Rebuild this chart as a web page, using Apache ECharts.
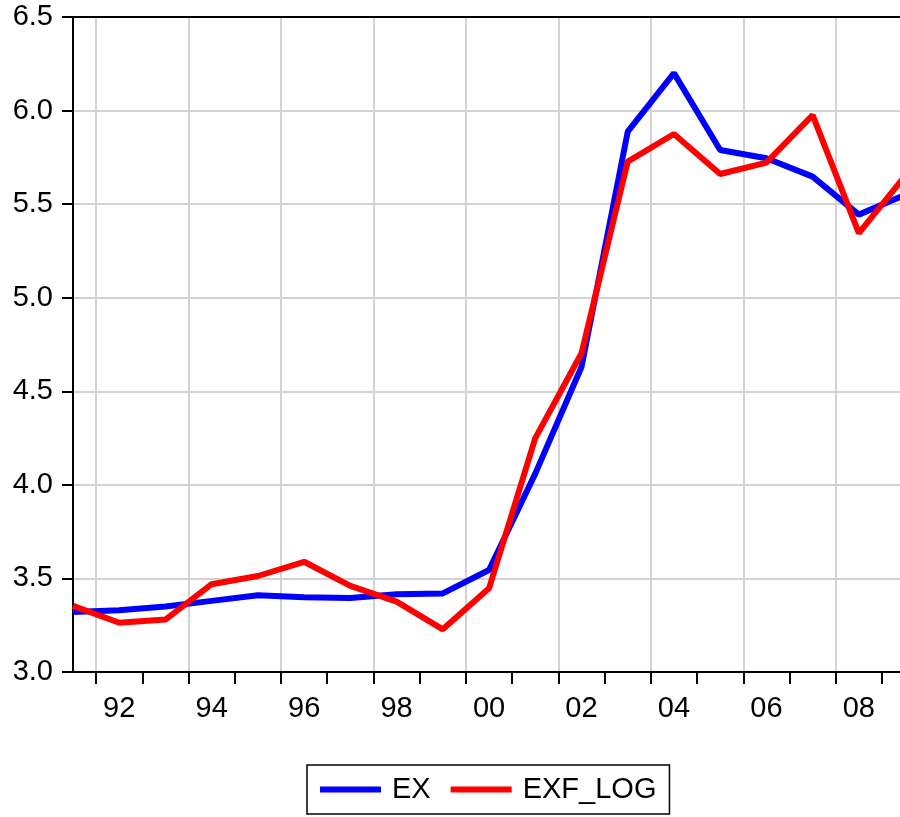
<!DOCTYPE html>
<html>
<head>
<meta charset="utf-8">
<script src="https://cdn.jsdelivr.net/npm/echarts@6/dist/echarts.min.js"></script>
<style>
  html, body { margin: 0; padding: 0; background: #fff; }
  #chart { width: 900px; height: 817px; }
</style>
</head>
<body>
<div id="chart"></div>
<script>
// years of the annual series
var years = [1991, 1992, 1993, 1994, 1995, 1996, 1997, 1998, 1999, 2000,
             2001, 2002, 2003, 2004, 2005, 2006, 2007, 2008, 2009];
// EX
var exValues = [3.32, 3.33, 3.35, 3.38, 3.41, 3.40, 3.395, 3.415, 3.42, 3.545,
                4.06, 4.63, 5.887, 6.20, 5.789, 5.745, 5.647, 5.444, 5.55];
// EXF_LOG
var exfLogValues = [3.353, 3.263, 3.28, 3.469, 3.513, 3.589, 3.46, 3.376, 3.228, 3.447,
                    4.25, 4.703, 5.727, 5.875, 5.661, 5.722, 5.976, 5.345, 5.65];
// tick marks sit between years, labels on every second year
var yearTicks = [1991.5, 1992.5, 1993.5, 1994.5, 1995.5, 1996.5, 1997.5, 1998.5, 1999.5,
                 2000.5, 2001.5, 2002.5, 2003.5, 2004.5, 2005.5, 2006.5, 2007.5, 2008.5];
var gridTicks = [1991.5, 1993.5, 1995.5, 1997.5, 1999.5, 2001.5, 2003.5, 2005.5, 2007.5];
var yearLabels = [1992, 1994, 1996, 1998, 2000, 2002, 2004, 2006, 2008];

var font = 'Liberation Sans';

var option = {
  animation: false,
  backgroundColor: '#fff',
  grid: {
    left: 73,
    top: 17,
    right: 0,
    bottom: 145
  },
  xAxis: [
    {
      type: 'value',
      min: 1991,
      max: 2008.89,
      position: 'bottom',
      axisLine: { show: true, lineStyle: { color: '#000', width: 2 } },
      axisTick: {
        show: true,
        inside: false,
        length: 12,
        customValues: yearTicks,
        lineStyle: { color: '#000', width: 2 }
      },
      axisLabel: {
        show: true,
        customValues: yearLabels,
        margin: 22,
        color: '#000',
        fontSize: 29,
        fontFamily: font,
        formatter: function (v) {
          var s = String(Math.round(v) % 100);
          return s.length < 2 ? '0' + s : s;
        }
      },
      splitLine: { show: false }
    },
    {
      type: 'value',
      min: 1991,
      max: 2008.89,
      position: 'top',
      axisLine: { show: true, lineStyle: { color: '#000', width: 2 } },
      axisTick: { show: false, customValues: gridTicks },
      axisLabel: { show: false },
      splitLine: { show: true, lineStyle: { color: '#d3d3d3', width: 2 } }
    }
  ],
  yAxis: {
    type: 'value',
    min: 3,
    max: 6.5,
    interval: 0.5,
    axisLine: { show: true, lineStyle: { color: '#000', width: 2 } },
    axisTick: { show: true, inside: false, length: 11, lineStyle: { color: '#000', width: 2 } },
    axisLabel: {
      margin: 20,
      color: '#000',
      fontSize: 29,
      fontFamily: font,
      formatter: function (v) { return v.toFixed(1); }
    },
    splitLine: { show: true, lineStyle: { color: '#d3d3d3', width: 2 } }
  },
  legend: {
    left: 307,
    top: 765,
    padding: [10, 13, 10, 13],
    borderColor: '#000',
    borderWidth: 1.5,
    itemWidth: 61,
    itemHeight: 6,
    itemGap: 20,
    icon: 'rect',
    textStyle: {
      color: '#000',
      fontSize: 29,
      fontFamily: font,
      padding: [0, 0, 0, 6]
    },
    data: ['EX', 'EXF_LOG']
  },
  series: [
    {
      name: 'EX',
      type: 'line',
      xAxisIndex: 0,
      showSymbol: false,
      symbol: 'none',
      color: '#0000ff',
      lineStyle: { color: '#0000ff', width: 6 },
      data: years.map(function (y, i) { return [y, exValues[i]]; })
    },
    {
      name: 'EXF_LOG',
      type: 'line',
      xAxisIndex: 0,
      showSymbol: false,
      symbol: 'none',
      color: '#ff0000',
      lineStyle: { color: '#ff0000', width: 6 },
      data: years.map(function (y, i) { return [y, exfLogValues[i]]; })
    }
  ]
};

var chart = echarts.init(document.getElementById('chart'));
chart.setOption(option);
</script>
</body>
</html>
